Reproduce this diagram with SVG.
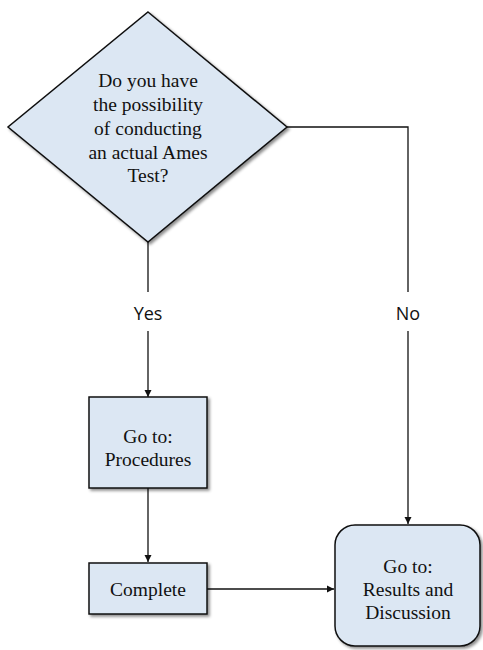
<svg xmlns="http://www.w3.org/2000/svg" width="483" height="650" viewBox="0 0 483 650">
<style>
.node{fill:#dce7f3;stroke:#111;stroke-width:1.5;filter:url(#sh)}
.t{font-family:"Liberation Serif","Times New Roman",serif;font-size:19.5px;fill:#111;text-anchor:middle}
.lbl{font-family:"Open Sans","Liberation Sans",sans-serif;font-size:18px;fill:#111;text-anchor:middle}
.c{fill:none;stroke:#111;stroke-width:1.3}
</style>
<defs>
<filter id="sh" x="-10%" y="-10%" width="130%" height="130%">
<feDropShadow dx="2" dy="2" stdDeviation="1.5" flood-color="#000" flood-opacity="0.45"/>
</filter>
<marker id="ah" markerWidth="8" markerHeight="8" refX="7" refY="4" orient="auto" markerUnits="userSpaceOnUse">
<path d="M0,0.5 L7,4 L0,7.5 Z" fill="#111"/>
</marker>
</defs>
<rect width="483" height="650" fill="#fff"/>
<g id="connectors">
<path class="c" d="M148,242 V292"/>
<path class="c" d="M148,331 V397" marker-end="url(#ah)"/>
<path class="c" d="M287,127 H408 V292"/>
<path class="c" d="M408,331 V524" marker-end="url(#ah)"/>
<path class="c" d="M148,488 V562" marker-end="url(#ah)"/>
<path class="c" d="M207,589 H334" marker-end="url(#ah)"/>
<text class="lbl" x="148" y="320">Yes</text>
<text class="lbl" x="408" y="320">No</text>
</g>
<g id="decision">
<polygon class="node" points="148,12 287,127 148,242 8,127"/>
<text class="t" x="148" y="87">Do you have</text>
<text class="t" x="148" y="111">the possibility</text>
<text class="t" x="148" y="135">of conducting</text>
<text class="t" x="148" y="159">an actual Ames</text>
<text class="t" x="148" y="182">Test?</text>
</g>
<g id="procedures">
<rect class="node" x="89" y="397" width="118" height="91"/>
<text class="t" x="148" y="443">Go to:</text>
<text class="t" x="148" y="466">Procedures</text>
</g>
<g id="complete">
<rect class="node" x="89" y="563" width="118" height="51"/>
<text class="t" x="148" y="596">Complete</text>
</g>
<g id="results">
<rect class="node" x="335" y="525" width="145" height="121" rx="20" ry="20"/>
<text class="t" x="408" y="573">Go to:</text>
<text class="t" x="408" y="596">Results and</text>
<text class="t" x="408" y="619">Discussion</text>
</g>
</svg>
